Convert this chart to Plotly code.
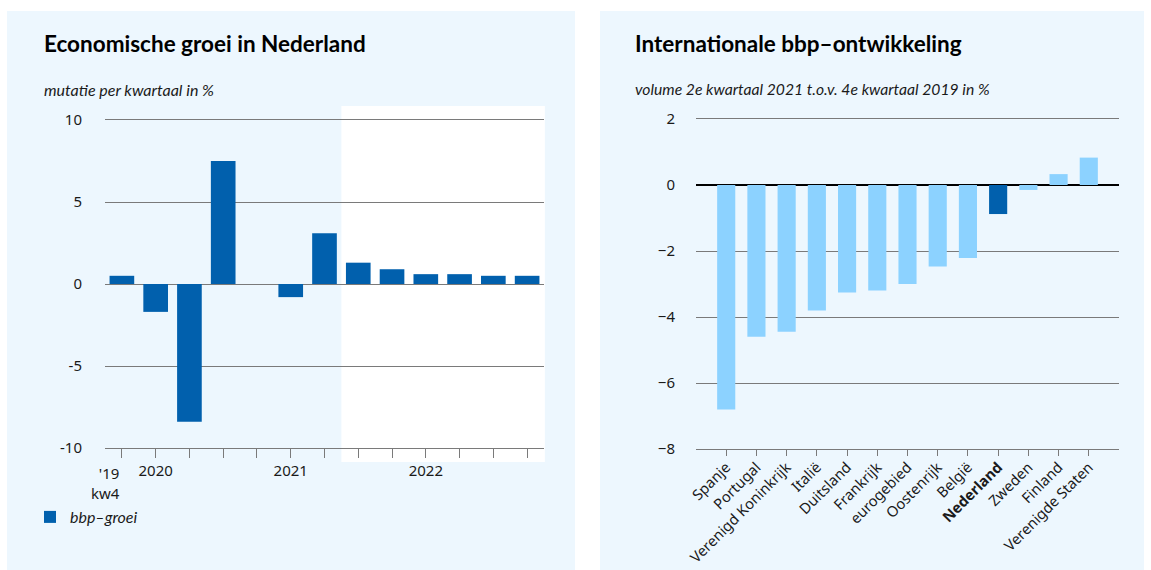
import plotly.graph_objects as go

W, H = 1151, 570

# left chart: quarterly GDP growth NL
quarters = ["2019 kw4", "2020 kw1", "2020 kw2", "2020 kw3", "2020 kw4",
            "2021 kw1", "2021 kw2", "2021 kw3", "2021 kw4",
            "2022 kw1", "2022 kw2", "2022 kw3", "2022 kw4"]
growth = [0.5, -1.7, -8.4, 7.5, 0.0, -0.8, 3.1, 1.3, 0.9, 0.6, 0.6, 0.5, 0.5]
quarter_labels = ["", "2020", "", "", "", "2021", "", "", "", "2022", "", "", ""]
first_label = "'19<br>kw4"
left_yticks = [-10, -5, 0, 5, 10]
left_yticklabels = ["-10", "-5", "0", "5", "10"]

# right chart: GDP 2021Q2 vs 2019Q4
countries = ["Spanje", "Portugal", "Verenigd Koninkrijk", "Italië", "Duitsland",
             "Frankrijk", "eurogebied", "Oostenrijk", "België", "<b>Nederland</b>",
             "Zweden", "Finland", "Verenigde Staten"]
volume = [-6.8, -4.6, -4.45, -3.8, -3.26, -3.2, -3.0, -2.47, -2.21, -0.88, -0.15, 0.33, 0.83]

DARK = "#0160ad"
LIGHT = "#8cd2ff"
PANEL = "#edf7fe"
GRID = "#7a7a7a"
TXT = "#1a1a1a"
FONT = "Lato"
TICKFONT = dict(family="Noto Sans", size=15, color=TXT)

def px(x):
    return x / W

def py(y):
    return 1 - y / H

fig = go.Figure()

fig.add_trace(go.Bar(x=quarters, y=growth, width=0.73, marker_color=DARK,
                     marker_line_width=0, name="bbp\u2013groei",
                     xaxis="x", yaxis="y", showlegend=True))

fig.add_trace(go.Bar(x=countries, y=volume, width=0.6,
                     marker_color=[DARK if "Nederland" in c else LIGHT for c in countries],
                     marker_line_width=0, xaxis="x2", yaxis="y2", showlegend=False))

fig.update_layout(
    width=W, height=H,
    margin=dict(l=0, r=0, t=0, b=0, autoexpand=False),
    paper_bgcolor="white",
    plot_bgcolor="rgba(0,0,0,0)",
    font=dict(family=FONT, size=15, color=TXT),
    xaxis=dict(domain=[px(105), px(544)], anchor="y", type="category", automargin=False,
               range=[-0.5, 12.5], tickvals=quarters, ticktext=quarter_labels,
               ticks="outside", ticklen=9, tickcolor=GRID, tickwidth=1,
               showgrid=False, showline=True, mirror=True, linecolor=GRID, linewidth=1,
               tickangle=0, tickfont=TICKFONT),
    yaxis=dict(domain=[py(448), py(120)], anchor="x", range=[-10, 10], automargin=False,
               tickvals=left_yticks, ticktext=left_yticklabels,
               showgrid=True, gridcolor=GRID, gridwidth=1,
               zeroline=True, zerolinecolor=GRID, zerolinewidth=1,
               ticks="", ticklabelstandoff=22, tickfont=TICKFONT),
    xaxis2=dict(domain=[px(696), px(1119)], anchor="y2", type="category", automargin=False,
                range=[-1, 13], ticks="outside", ticklen=6, tickcolor=GRID,
                tickangle=-45, showgrid=False, showline=True, mirror=True,
                linecolor=GRID, linewidth=1, ticklabelstandoff=-3,
                tickfont=dict(family="Noto Sans", size=14.7, color=TXT)),
    yaxis2=dict(domain=[py(449), py(119)], anchor="x2", range=[-8, 2], automargin=False,
                dtick=2, showgrid=True, gridcolor=GRID, gridwidth=1,
                zeroline=True, zerolinecolor="black", zerolinewidth=2,
                ticks="", ticklabelstandoff=20, tickfont=TICKFONT),
    legend=dict(x=px(30), y=py(517), xanchor="left", yanchor="middle",
                bgcolor="rgba(0,0,0,0)", font=dict(size=16, style="italic", color=TXT)),
    showlegend=True,
)

# first quarter label, right-aligned on its tick
fig.add_annotation(text=first_label, xref="x", yref="paper", x=quarters[0], xshift=0,
                   y=py(461), xanchor="right", yanchor="top", align="right",
                   showarrow=False, font=TICKFONT)

# panels
fig.add_shape(type="rect", xref="paper", yref="paper", x0=px(7), x1=px(575),
              y0=0, y1=py(11), fillcolor=PANEL, line_width=0, layer="below")
fig.add_shape(type="rect", xref="paper", yref="paper", x0=px(600), x1=px(1144),
              y0=0, y1=py(11), fillcolor=PANEL, line_width=0, layer="below")
# white forecast area in left chart
fig.add_shape(type="rect", xref="x domain", yref="y domain", x0=7 / 13, x1=1.002,
              y0=-0.043, y1=1.043, fillcolor="white", line_width=0, layer="below")

# titles
fig.add_annotation(text="<b>Economische groei in Nederland</b>", xref="paper", yref="paper",
                   x=px(42), y=py(43), xanchor="left", yanchor="middle", showarrow=False,
                   font=dict(size=22.5, color="black"))
fig.add_annotation(text="mutatie per kwartaal in %", xref="paper", yref="paper",
                   x=px(42), y=py(89), xanchor="left", yanchor="middle", showarrow=False,
                   font=dict(size=16, style="italic", color=TXT))
fig.add_annotation(text="<b>Internationale bbp\u2013ontwikkeling</b>", xref="paper", yref="paper",
                   x=px(633), y=py(43), xanchor="left", yanchor="middle", showarrow=False,
                   font=dict(size=22.5, color="black"))
fig.add_annotation(text="volume 2e kwartaal 2021 t.o.v. 4e kwartaal 2019 in %", xref="paper",
                   yref="paper", x=px(633), y=py(89), xanchor="left", yanchor="middle",
                   showarrow=False, font=dict(size=15.7, style="italic", color=TXT))

fig.write_html("out.html", config={"displayModeBar": False},
               post_script="document.body.style.margin='0';")
